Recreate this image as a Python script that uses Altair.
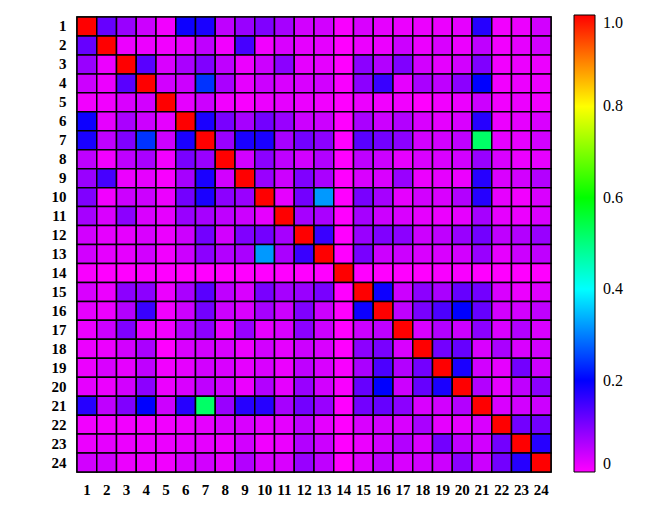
import altair as alt
import pandas as pd

labels = [str(i) for i in range(1, 25)]

# upper-triangle values (row i, columns i+1..24)
upper = [
    [0.12, 0.08, 0.04, 0.01, 0.19, 0.18, 0.05, 0.08, 0.10, 0.07, 0.035, 0.035, 0.005, 0.03, 0.02, 0.015, 0.015, 0.015, 0.02, 0.17, 0.01, 0.015, 0.035],
    [0.015, 0.015, 0.01, 0.02, 0.05, 0.01, 0.145, 0.01, 0.03, 0.02, 0.02, 0.0, 0.015, 0.015, 0.04, 0.015, 0.03, 0.015, 0.05, 0.01, 0.02, 0.035],
    [0.13, 0.03, 0.067, 0.10, 0.05, 0.015, 0.04, 0.09, 0.02, 0.02, 0.0, 0.09, 0.06, 0.10, 0.035, 0.02, 0.035, 0.10, 0.01, 0.015, 0.015],
    [0.035, 0.04, 0.24, 0.067, 0.02, 0.04, 0.03, 0.03, 0.035, 0.005, 0.09, 0.155, 0.02, 0.067, 0.05, 0.09, 0.20, 0.01, 0.015, 0.015],
    [0.02, 0.04, 0.01, 0.005, 0.015, 0.02, 0.015, 0.01, 0.0, 0.015, 0.01, 0.01, 0.0, 0.01, 0.015, 0.04, 0.01, 0.015, 0.01],
    [0.18, 0.105, 0.07, 0.11, 0.08, 0.04, 0.04, 0.0, 0.067, 0.04, 0.06, 0.03, 0.02, 0.03, 0.17, 0.015, 0.02, 0.03],
    [0.08, 0.18, 0.18, 0.07, 0.11, 0.09, 0.0, 0.13, 0.11, 0.09, 0.035, 0.035, 0.05, 0.52, 0.02, 0.02, 0.035],
    [0.035, 0.09, 0.05, 0.035, 0.06, 0.0, 0.05, 0.04, 0.02, 0.03, 0.03, 0.035, 0.08, 0.03, 0.015, 0.02],
    [0.08, 0.04, 0.10, 0.067, 0.0, 0.03, 0.03, 0.08, 0.015, 0.02, 0.015, 0.17, 0.03, 0.035, 0.06],
    [0.02, 0.11, 0.32, 0.0, 0.105, 0.07, 0.02, 0.035, 0.03, 0.06, 0.17, 0.02, 0.01, 0.03],
    [0.07, 0.067, 0.0, 0.07, 0.04, 0.03, 0.02, 0.015, 0.02, 0.07, 0.02, 0.015, 0.03],
    [0.155, 0.0, 0.08, 0.10, 0.09, 0.04, 0.05, 0.08, 0.11, 0.05, 0.06, 0.08],
    [0.0, 0.105, 0.04, 0.04, 0.03, 0.03, 0.035, 0.08, 0.02, 0.04, 0.05],
    [0.0, 0.0, 0.0, 0.0, 0.005, 0.005, 0.0, 0.0, 0.0, 0.0],
    [0.19, 0.04, 0.09, 0.067, 0.12, 0.11, 0.03, 0.015, 0.025],
    [0.05, 0.105, 0.14, 0.20, 0.12, 0.035, 0.035, 0.05],
    [0.03, 0.06, 0.04, 0.09, 0.03, 0.06, 0.03],
    [0.11, 0.12, 0.03, 0.067, 0.03, 0.035],
    [0.18, 0.035, 0.02, 0.11, 0.04],
    [0.06, 0.02, 0.05, 0.09],
    [0.03, 0.035, 0.04],
    [0.11, 0.11],
    [0.17],
]

legend_values = [0, 0.2, 0.4, 0.6, 0.8, 1.0]

n = len(labels)
rows = []
for i in range(n):
    for j in range(n):
        if i == j:
            v = 1.0
        elif j > i:
            v = upper[i][j - i - 1]
        else:
            v = upper[j][i - j - 1]
        rows.append({"row": labels[i], "col": labels[j], "value": v})
df = pd.DataFrame(rows)

color_scale = alt.Scale(
    domain=[0, 0.2, 0.4, 0.6, 0.8, 1.0],
    range=["#ff00ff", "#0000ff", "#00ffff", "#00ff00", "#ffff00", "#ff0000"],
    interpolate="rgb",
)

chart = (
    alt.Chart(df)
    .mark_rect(stroke="black", strokeWidth=1.5)
    .encode(
        x=alt.X("col:O", sort=labels, title=None,
                axis=alt.Axis(labelAngle=0, ticks=False, domain=False, labelPadding=10,
                              labelFont="Liberation Serif", labelFontWeight="bold",
                              labelFontSize=15, labelColor="black")),
        y=alt.Y("row:O", sort=labels, title=None,
                axis=alt.Axis(ticks=False, domain=False, labelPadding=11,
                              labelFont="Liberation Serif", labelFontWeight="bold",
                              labelFontSize=15, labelColor="black")),
        color=alt.Color("value:Q", scale=color_scale,
                        legend=alt.Legend(title=None, orient="none", legendX=497, legendY=-2,
                                          direction="vertical", gradientLength=457,
                                          gradientThickness=21, gradientStrokeColor="black",
                                          gradientStrokeWidth=1, values=legend_values,
                                          labelExpr="datum.value == 0 ? '0' : format(datum.value, '.1f')",
                                          labelFont="Liberation Serif", labelFontSize=16,
                                          labelBaseline="middle",
                                          labelColor="black", labelOffset=8)),
    )
    .properties(
        width=474, height=455,
        autosize=alt.AutoSizeParams(type="none"),
        padding={"left": 69, "top": 9, "right": 86, "bottom": 30},
    )
    .configure_view(stroke="black", strokeWidth=1.5)
    .configure_scale(bandPaddingInner=0, bandPaddingOuter=0)
)

chart.save("out.html", embed_options={"renderer": "svg", "actions": False})
